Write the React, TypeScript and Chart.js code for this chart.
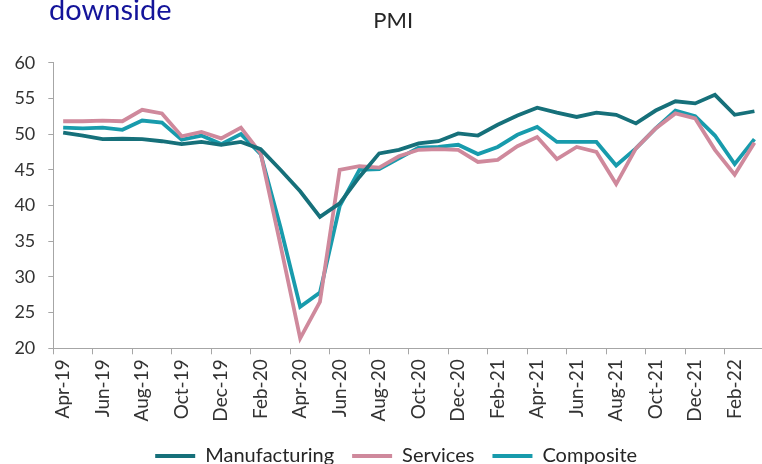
import React, { useEffect, useRef } from "react";
import { Chart, registerables } from "chart.js";

Chart.register(...registerables);

const months = [
  "Apr-19", "May-19", "Jun-19", "Jul-19", "Aug-19", "Sep-19", "Oct-19", "Nov-19", "Dec-19",
  "Jan-20", "Feb-20", "Mar-20", "Apr-20", "May-20", "Jun-20", "Jul-20", "Aug-20", "Sep-20",
  "Oct-20", "Nov-20", "Dec-20", "Jan-21", "Feb-21", "Mar-21", "Apr-21", "May-21", "Jun-21",
  "Jul-21", "Aug-21", "Sep-21", "Oct-21", "Nov-21", "Dec-21", "Jan-22", "Feb-22", "Mar-22",
];

const manufacturing = [
  50.2, 49.8, 49.3, 49.35, 49.3, 49.0, 48.6, 48.9, 48.5, 48.9, 47.9, 45.0, 42.0, 38.4, 40.3,
  44.0, 47.3, 47.8, 48.7, 49.0, 50.1, 49.8, 51.3, 52.6, 53.7, 53.0, 52.4, 53.0, 52.7, 51.5,
  53.3, 54.6, 54.3, 55.5, 52.7, 53.2,
];

const services = [
  51.8, 51.8, 51.9, 51.8, 53.4, 52.9, 49.7, 50.3, 49.4, 50.9, 47.3, 34.5, 21.4, 26.5, 45.0,
  45.5, 45.3, 46.9, 47.8, 47.9, 47.8, 46.1, 46.4, 48.3, 49.6, 46.5, 48.2, 47.5, 43.0, 48.0,
  50.8, 52.9, 52.2, 47.8, 44.3, 48.8,
];

const composite = [
  50.9, 50.8, 50.9, 50.6, 51.9, 51.6, 49.2, 49.8, 48.6, 50.0, 47.2, 37.0, 25.8, 27.8, 39.9,
  45.0, 45.1, 46.6, 48.1, 48.2, 48.5, 47.2, 48.2, 49.9, 51.0, 48.9, 48.9, 48.9, 45.6, 48.0,
  50.8, 53.3, 52.5, 49.8, 45.8, 49.3,
];

const seriesNames = ["Manufacturing", "Services", "Composite"];
const seriesColors = ["#16707a", "#cf899c", "#189bac"];
const chartTitle = "PMI";
const headingText = "downside";

const shiftPlugin = {
  id: "shiftBoxes",
  afterLayout(chart: any) {
    const lg = chart.legend;
    if (lg) {
      lg.left += 14;
      lg.right += 14;
    }
    const t = chart.titleBlock;
    if (t) {
      t.left += 11;
      t.right += 11;
    }
  },
};

export default function App() {
  const ref = useRef<HTMLCanvasElement>(null);

  useEffect(() => {
    if (!ref.current) return;
    const textColor = "#333333";
    const axisColor = "#a6a6a6";
    const yFont = { family: "Lato", size: 18 };
    const xFont = { family: "Lato", size: 19 };
    const chart = new Chart(ref.current, {
      type: "line",
      data: {
        labels: months,
        datasets: [manufacturing, services, composite].map((d, k) => ({
          label: seriesNames[k],
          data: d,
          borderColor: seriesColors[k],
          backgroundColor: seriesColors[k],
          borderWidth: 3.8,
          pointRadius: 0,
          tension: 0,
          fill: false,
        })),
      },
      plugins: [shiftPlugin],
      options: {
        responsive: false,
        animation: false,
        devicePixelRatio: 1,
        layout: { padding: { left: 0, right: 27.7, top: 0, bottom: 4 } },
        plugins: {
          title: {
            display: true,
            text: chartTitle,
            color: "#262626",
            font: { family: "Lato", size: 22, weight: "normal" },
            padding: { top: 8, bottom: 28.3 },
          },
          legend: {
            position: "bottom",
            labels: {
              usePointStyle: true,
              pointStyle: "line",
              pointStyleWidth: 40,
              font: { family: "Lato", size: 20 },
              color: "#262626",
              padding: 18,
            },
          },
          tooltip: { enabled: false },
        },
        scales: {
          x: {
            offset: true,
            grid: {
              offset: true,
              drawOnChartArea: false,
              drawTicks: true,
              tickLength: 6,
              tickColor: (ctx: any) => (ctx.index % 2 === 0 ? axisColor : "rgba(0,0,0,0)"),
            },
            border: { color: axisColor },
            ticks: {
              autoSkip: false,
              maxRotation: 90,
              minRotation: 90,
              padding: 5,
              color: textColor,
              font: xFont,
              callback: (_v: any, i: number) => (i % 2 === 0 ? months[i] : ""),
            },
            afterFit: (s: any) => {
              s.height = 79.7;
            },
          },
          y: {
            min: 20,
            max: 60,
            ticks: { stepSize: 5, padding: 13, color: textColor, font: yFont },
            grid: { drawOnChartArea: false, drawTicks: true, tickLength: 5, color: axisColor },
            border: { color: axisColor },
            afterFit: (s: any) => {
              s.width = 53.3;
            },
          },
        },
      },
    } as any);
    return () => chart.destroy();
  }, []);

  return (
    <div
      style={{
        position: "absolute",
        left: 0,
        top: 0,
        width: 762,
        height: 464,
        overflow: "hidden",
        background: "#ffffff",
      }}
    >
      <canvas
        ref={ref}
        width={792}
        height={480}
        style={{ position: "absolute", left: 0, top: 0, width: 792, height: 480 }}
      />
      <div
        style={{
          position: "absolute",
          left: 49,
          top: -6.2,
          fontFamily: "Lato",
          fontSize: 29,
          lineHeight: "29px",
          color: "#14149a",
          whiteSpace: "nowrap",
        }}
      >
        {headingText}
      </div>
    </div>
  );
}
